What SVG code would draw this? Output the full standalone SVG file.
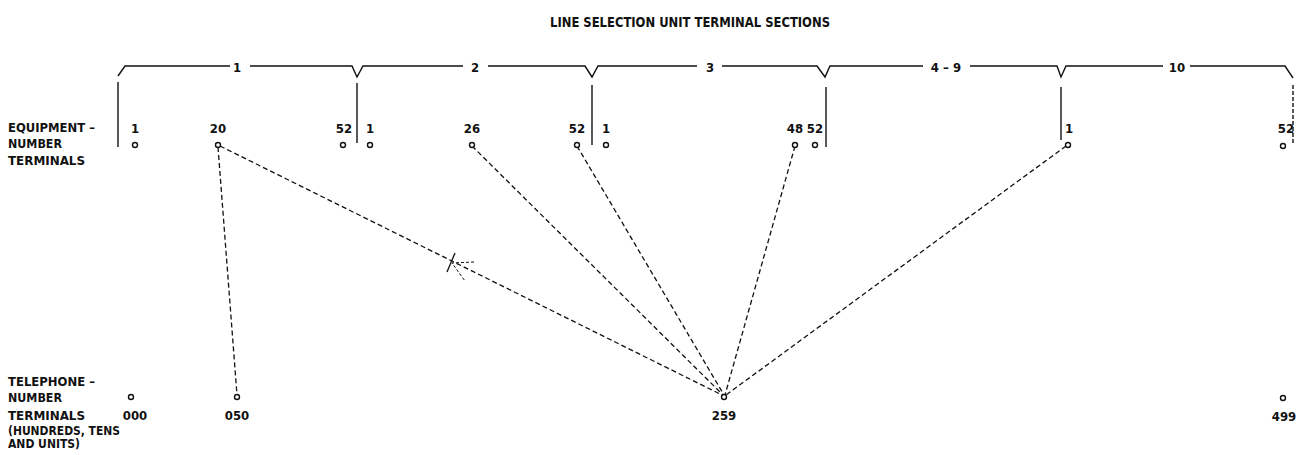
<svg xmlns="http://www.w3.org/2000/svg" width="1305" height="455" viewBox="0 0 1305 455">
<style>
text{font-family:"DejaVu Sans Condensed","Liberation Sans",sans-serif;font-weight:bold;font-size:13px;fill:#111}
.t{font-size:14px}
.lbl{font-size:13px}
.n{text-anchor:middle;font-size:13px}
.br{fill:none;stroke:#111;stroke-width:1.4}
.term{fill:#fff;stroke:#111;stroke-width:1.4}
.dash{fill:none;stroke:#111;stroke-width:1.3;stroke-dasharray:5 3}
</style>
<rect width="1305" height="455" fill="#fff"/>
<g id="title"><text class="t" x="550" y="27" textLength="280" lengthAdjust="spacingAndGlyphs">LINE SELECTION UNIT TERMINAL SECTIONS</text></g>
<g id="sections">
<path class="br" d="M118,76 L125,66 H230 M250,66 H352 L357,77 L363,66 H463 M488,66 H585 L592,77 L598,66 H697 M722,66 H817 L825,77 L830,66 H923 M970,66 H1057 L1061,77 L1066,66 H1163 M1190,66 H1285 L1293,78"/>
<text class="n" x="237" y="72">1</text>
<text class="n" x="475" y="72">2</text>
<text class="n" x="710" y="72">3</text>
<text class="n" x="946" y="72">4 – 9</text>
<text class="n" x="1177" y="72">10</text>
<path class="br" d="M118,82 V147 M357,83 V143 M592,85 V145 M826,87 V147 M1061,87 V140"/>
<path class="br" d="M1293,85 V145" stroke-dasharray="4 2"/>
</g>
<g id="left-labels">
<text class="lbl" x="8" y="132" textLength="87" lengthAdjust="spacingAndGlyphs">EQUIPMENT –</text>
<text class="lbl" x="8" y="148" textLength="54" lengthAdjust="spacingAndGlyphs">NUMBER</text>
<text class="lbl" x="8" y="165" textLength="77" lengthAdjust="spacingAndGlyphs">TERMINALS</text>
<text class="lbl" x="8" y="386" textLength="87" lengthAdjust="spacingAndGlyphs">TELEPHONE –</text>
<text class="lbl" x="8" y="402" textLength="54" lengthAdjust="spacingAndGlyphs">NUMBER</text>
<text class="lbl" x="8" y="420" textLength="77" lengthAdjust="spacingAndGlyphs">TERMINALS</text>
<text class="lbl" x="8" y="435" textLength="112" lengthAdjust="spacingAndGlyphs">(HUNDREDS, TENS</text>
<text class="lbl" x="8" y="448" textLength="72" lengthAdjust="spacingAndGlyphs">AND UNITS)</text>
</g>
<g id="connectors">
<path class="dash" d="M218,147 L237,395"/>
<path class="dash" d="M220,146 L722,395"/>
<path class="dash" d="M472,146 L723,395"/>
<path class="dash" d="M577,146 L724,395"/>
<path class="dash" d="M795,146 L725,395"/>
<path class="dash" d="M1066,146 L726,395"/>
<path fill="none" stroke="#111" stroke-width="1.3" d="M447,272 L455,253"/>
<path fill="none" stroke="#111" stroke-width="1" stroke-dasharray="3 2" d="M474,262 L452,263 L465,281"/>
</g>
<g id="eq-terminals">
<g id="eq1-1"><text class="n" x="135" y="133">1</text><circle class="term" cx="135" cy="145" r="2.5"/></g>
<g id="eq1-20"><text class="n" x="218" y="133">20</text><circle class="term" cx="218" cy="145" r="2.5"/></g>
<g id="eq1-52"><text class="n" x="344" y="133">52</text><circle class="term" cx="343" cy="145" r="2.5"/></g>
<g id="eq2-1"><text class="n" x="370" y="133">1</text><circle class="term" cx="370" cy="145" r="2.5"/></g>
<g id="eq2-26"><text class="n" x="472" y="133">26</text><circle class="term" cx="472" cy="145" r="2.5"/></g>
<g id="eq2-52"><text class="n" x="577" y="133">52</text><circle class="term" cx="577" cy="145" r="2.5"/></g>
<g id="eq3-1"><text class="n" x="606" y="133">1</text><circle class="term" cx="606" cy="145" r="2.5"/></g>
<g id="eq3-48"><text class="n" x="795" y="133">48</text><circle class="term" cx="795" cy="145" r="2.5"/></g>
<g id="eq3-52"><text class="n" x="815" y="133">52</text><circle class="term" cx="815" cy="145" r="2.5"/></g>
<g id="eq10-1"><text class="n" x="1069" y="133">1</text><circle class="term" cx="1068" cy="145" r="2.5"/></g>
<g id="eq10-52"><text class="n" x="1286" y="133">52</text><circle class="term" cx="1283" cy="146" r="2.5"/></g>
</g>
<g id="tel-terminals">
<g id="t000"><circle class="term" cx="131" cy="397" r="2.5"/><text class="n" x="135" y="420">000</text></g>
<g id="t050"><circle class="term" cx="237" cy="397" r="2.5"/><text class="n" x="237" y="420">050</text></g>
<g id="t259"><circle class="term" cx="724" cy="397" r="2.5"/><text class="n" x="724" y="420">259</text></g>
<g id="t499"><circle class="term" cx="1283" cy="398" r="2.5"/><text class="n" x="1284" y="421">499</text></g>
</g>
</svg>
